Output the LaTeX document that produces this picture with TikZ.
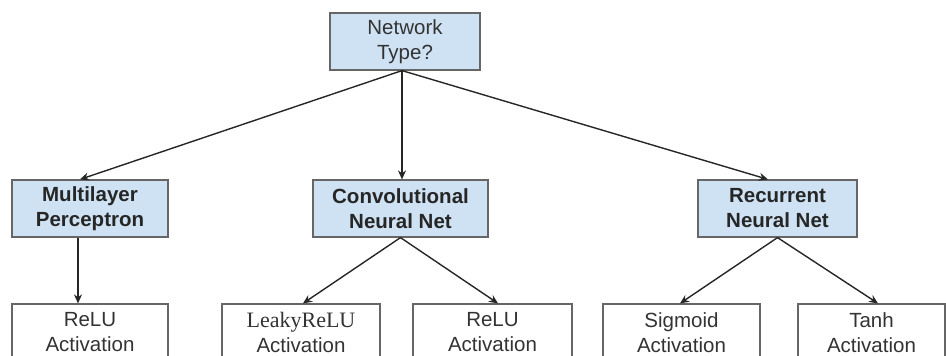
\documentclass[tikz,border=0pt]{standalone}
\usepackage{fontspec}
\setmainfont{Liberation Sans}
\newfontfamily\serifface{Liberation Serif}
\usetikzlibrary{arrows.meta}
\definecolor{boxfill}{HTML}{CFE2F3}
\definecolor{boxdraw}{HTML}{666666}
\definecolor{txt}{HTML}{333333}
\begin{document}
\begin{tikzpicture}[x=1pt,y=-1pt,
  basebox/.style={draw=boxdraw,line width=1.2pt,inner sep=0pt,minimum height=57pt,align=center,
    text=txt,font=\fontsize{20.5}{25}\selectfont},
  bluebox/.style={basebox,fill=boxfill},
  whitebox/.style={basebox,fill=white},
  boldtext/.style={font=\fontsize{20.5}{25}\selectfont\bfseries,text=black!85},
  conn/.style={line width=1.4pt,draw=black!85,-{Stealth[length=9pt,width=8pt]}}]
\useasboundingbox (0,0) rectangle (946,356);
\clip (0,0) rectangle (946,356);
\node[bluebox,minimum width=150pt] (top) at (405,41.5) {Network\\Type?};
\node[bluebox,boldtext,minimum width=156pt] (mlp) at (90,208.5) {Multilayer\\Perceptron};
\node[bluebox,boldtext,minimum width=175pt] (cnn) at (400.5,208.5) {Convolutional\\Neural Net};
\node[bluebox,boldtext,minimum width=159pt] (rnn) at (777.5,208.5) {Recurrent\\Neural Net};
\node[whitebox,minimum width=156pt] (relua) at (90,332.5) {ReLU\\Activation};
\node[whitebox,minimum width=158pt] (leaky) at (301,332.5) {{\serifface\fontsize{22}{25}\selectfont LeakyReLU}\\Activation};
\node[whitebox,minimum width=159pt] (relub) at (492.5,332.5) {ReLU\\Activation};
\node[whitebox,minimum width=157pt] (sigm) at (681.5,332.5) {Sigmoid\\Activation};
\node[whitebox,minimum width=147pt] (tanh) at (871.5,332.5) {Tanh\\Activation};
\draw[conn] ([xshift=-3pt]top.south) -- ([xshift=-10pt]mlp.north);
\draw[conn] ([xshift=-3pt]top.south) -- ([xshift=1.5pt]cnn.north);
\draw[conn] ([xshift=-3pt]top.south) -- ([xshift=-9.5pt]rnn.north);
\draw[conn] ([xshift=-12pt]mlp.south) -- ([xshift=-12pt]relua.north);
\draw[conn] (cnn.south) -- ([xshift=2pt]leaky.north);
\draw[conn] (cnn.south) -- ([xshift=5.5pt]relub.north);
\draw[conn] (rnn.south) -- ([xshift=-1.5pt]sigm.north);
\draw[conn] (rnn.south) -- ([xshift=6.5pt]tanh.north);
\end{tikzpicture}
\end{document}
